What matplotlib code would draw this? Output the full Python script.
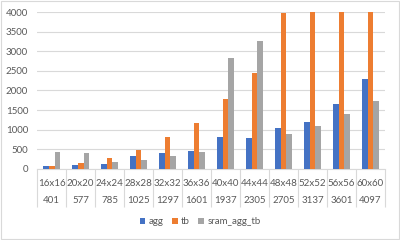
import numpy as np
import matplotlib
matplotlib.use("Agg")
import matplotlib.pyplot as plt
from matplotlib.patches import Rectangle

# category labels (two rows, Excel multi-level axis)
sizes = ['16x16', '20x20', '24x24', '28x28', '32x32', '36x36',
         '40x40', '44x44', '48x48', '52x52', '56x56', '60x60']
counts = ['401', '577', '785', '1025', '1297', '1601',
          '1937', '2305', '2705', '3137', '3601', '4097']

# series values (tb beyond 4000 is cut by the axis)
agg = [70, 110, 135, 320, 417, 459, 808, 790, 1045, 1206, 1657, 2295]
tb = [70, 160, 275, 485, 816, 1173, 1777, 2456, 3970, 4800, 5600, 6500]
sram_agg_tb = [425, 415, 180, 238, 323, 434, 2838, 3256, 900, 1104, 1410, 1734]

plt.rcParams['font.family'] = ['Lato', 'DejaVu Sans']
grid_col = '#d9d9d9'
text_col = '#595959'

fig = plt.figure(figsize=(4, 2.4), dpi=100)
ax = fig.add_axes([0.093, 0.296, 0.8695, 0.654])

x = np.arange(len(sizes))
w = 0.195
ax.bar(x - w, agg, w, color='#4472C4', label='agg', zorder=3)
ax.bar(x, tb, w, color='#ED7D31', label='tb', zorder=3)
ax.bar(x + w, sram_agg_tb, w, color='#A5A5A5', label='sram_agg_tb', zorder=3)

ax.set_ylim(0, 4000)
ax.set_xlim(-0.5, len(sizes) - 0.5)
ax.set_yticks(np.arange(0, 4001, 500))
ax.yaxis.grid(True, color=grid_col, linewidth=0.8, zorder=0)
for s in ['top', 'right', 'left']:
    ax.spines[s].set_visible(False)
ax.spines['bottom'].set_color(grid_col)
ax.spines['bottom'].set_linewidth(0.8)

ax.tick_params(axis='y', length=0, labelsize=7, labelcolor=text_col, pad=6.5)

# first label row as tick labels, separators as long minor ticks
ax.set_xticks(x)
ax.set_xticklabels(sizes)
ax.tick_params(axis='x', which='major', length=0, labelsize=7,
               labelcolor=text_col, pad=7)
ax.set_xticks(np.arange(-0.5, len(sizes)), minor=True)
ax.tick_params(axis='x', which='minor', length=27.5, color=grid_col, width=0.8)

# second label row
trans = ax.get_xaxis_transform()
for xi, c in zip(x, counts):
    ax.text(xi, -0.2, c, transform=trans, ha='center', va='center',
            fontsize=7, color=text_col)

fig.legend(loc='center', bbox_to_anchor=(0.5, 0.075), ncol=3, frameon=False,
           fontsize=7, handlelength=0.6, handleheight=0.6, handletextpad=0.3,
           columnspacing=0.9, labelcolor=text_col)

fig.patches.append(Rectangle((0.002, 0.003), 0.995, 0.993, transform=fig.transFigure,
                             fill=False, edgecolor=grid_col, linewidth=0.8))

fig.savefig('out.png', dpi=100, facecolor='white')
